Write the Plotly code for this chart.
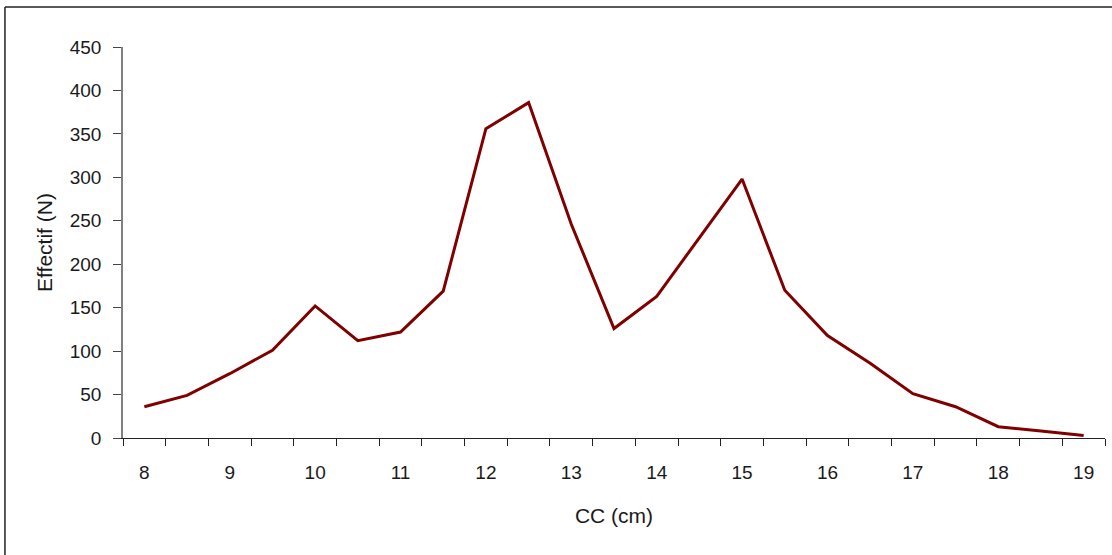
import plotly.graph_objects as go

# Data
cc = [8, 8.5, 9, 9.5, 10, 10.5, 11, 11.5, 12, 12.5, 13, 13.5,
      14, 14.5, 15, 15.5, 16, 16.5, 17, 17.5, 18, 18.5, 19]
effectif = [36, 49, 74, 101, 152, 112, 122, 169, 356, 386, 246, 126,
            163, 231, 298, 170, 118, 86, 51, 36, 13, 8, 3]
x_tick_vals = [8, 9, 10, 11, 12, 13, 14, 15, 16, 17, 18, 19]
x_tick_text = [str(v) for v in x_tick_vals]
y_tick_vals = [0, 50, 100, 150, 200, 250, 300, 350, 400, 450]

half = 0.25
boundaries = [c - half for c in cc] + [cc[-1] + half]

FONT = "Liberation Sans, Arial, sans-serif"
TXT = "#1a1a1a"

fig = go.Figure()
fig.add_trace(go.Scatter(
    x=cc, y=effectif, mode="lines",
    line=dict(color="#800000", width=3),
    showlegend=False, hoverinfo="x+y",
))

fig.update_layout(
    width=1112, height=555,
    margin=dict(l=123, r=7, t=47, b=117),
    paper_bgcolor="white", plot_bgcolor="white",
    font=dict(family=FONT, color=TXT),
    xaxis=dict(
        range=[boundaries[0], boundaries[-1]],
        tickmode="array", tickvals=x_tick_vals, ticktext=x_tick_text,
        ticks="", ticklen=0,
        minor=dict(tickmode="array", tickvals=boundaries, ticks="outside",
                   ticklen=7, tickcolor="#222222", tickwidth=1, showgrid=False),
        showline=True, linecolor="#222222", linewidth=1,
        showgrid=False, zeroline=False,
        tickfont=dict(size=19, color=TXT, family=FONT),
        ticklabelstandoff=17,
        title=dict(text="CC (cm)", font=dict(size=21, color=TXT, family=FONT), standoff=26),
    ),
    yaxis=dict(
        range=[0, 450],
        tickmode="array", tickvals=y_tick_vals,
        ticks="outside", ticklen=8, tickcolor="#444444", tickwidth=1,
        showline=True, linecolor="#808080", linewidth=1.5,
        showgrid=False, zeroline=False,
        tickfont=dict(size=19, color=TXT, family=FONT),
        ticklabelstandoff=8,
        title=dict(text="Effectif (N)", font=dict(size=21, color=TXT, family=FONT), standoff=11),
    ),
    shapes=[
        dict(type="line", xref="paper", yref="paper",
             x0=-0.1202, x1=1.02, y0=1.1023, y1=1.1023,
             line=dict(color="#222222", width=1.5)),
        dict(type="line", xref="paper", yref="paper",
             x0=-0.1202, x1=-0.1202, y0=1.1023, y1=-0.35,
             line=dict(color="#222222", width=1.5)),
    ],
)

fig.write_html(
    "out.html",
    config={"displayModeBar": False},
    post_script="document.body.style.margin='0';document.body.style.overflow='hidden';",
)
